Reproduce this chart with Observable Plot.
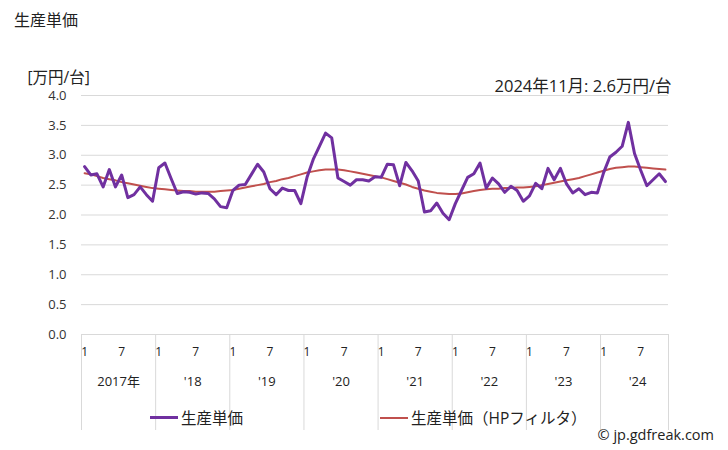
<!DOCTYPE html>
<html>
<head>
<meta charset="utf-8">
<script src="https://cdn.jsdelivr.net/npm/d3@7"></script>
<script src="https://cdn.jsdelivr.net/npm/@observablehq/plot@0.6"></script>
<style>
  html, body { margin: 0; padding: 0; background: #fff; }
  body { width: 728px; height: 450px; position: relative; overflow: hidden;
         font-family: "Open Sans", "Noto Sans CJK JP", sans-serif; color: #222; }
  #chart { position: absolute; left: 0; top: 0; z-index: 0; }
  .title, .legend, .credit { z-index: 2; }
  .title { position: absolute; left: 14px; top: 7px; font-size: 16px; font-family: "Noto Sans CJK JP", sans-serif; }
  .legend { position: absolute; top: 406px; font-size: 15.5px; display: flex; align-items: center; }
  .legend span.sw { display: inline-block; width: 28px; height: 3px; margin-right: 3px; }
  .credit { position: absolute; right: 14px; top: 425px; font-size: 14.5px; }
</style>
</head>
<body>
<div id="chart"></div>
<div class="title">生産単価</div>
<div class="legend" style="left:150px"><span class="sw" style="background:#7030a0"></span>生産単価</div>
<div class="legend" style="left:380px"><span class="sw" style="background:#c0504d;height:2px"></span>生産単価（HPフィルタ）</div>
<div class="credit">© jp.gdfreak.com</div>
<script>
const years = [2017, 2018, 2019, 2020, 2021, 2022, 2023, 2024];
const yearLabels = ["2017年", "'18", "'19", "'20", "'21", "'22", "'23", "'24"];
const monthTickLabels = [1, 7];
const yTicks = [0, 0.5, 1, 1.5, 2, 2.5, 3, 3.5, 4];

// 生産単価 (万円/台), Jan 2017 – Nov 2024
const unitPrice = [
  2.81, 2.67, 2.69, 2.47, 2.76, 2.47, 2.67, 2.29, 2.34, 2.47, 2.34, 2.23,
  2.79, 2.87, 2.61, 2.36, 2.39, 2.38, 2.35, 2.37, 2.36, 2.27, 2.14, 2.12,
  2.41, 2.50, 2.51, 2.68, 2.85, 2.72, 2.44, 2.34, 2.45, 2.41, 2.41, 2.19,
  2.63, 2.93, 3.15, 3.37, 3.29, 2.62, 2.56, 2.50, 2.59, 2.59, 2.57, 2.64,
  2.63, 2.85, 2.84, 2.49, 2.88, 2.74, 2.57, 2.05, 2.07, 2.20, 2.03, 1.92,
  2.19, 2.41, 2.63, 2.69, 2.87, 2.45, 2.62, 2.52, 2.38, 2.48, 2.41, 2.23,
  2.32, 2.53, 2.44, 2.78, 2.59, 2.78, 2.52, 2.37, 2.44, 2.34, 2.38, 2.37,
  2.71, 2.97, 3.05, 3.15, 3.55, 3.03, 2.75, 2.49, 2.59, 2.69, 2.56
];
// 生産単価 (HPフィルタ)
const hpTrend = [
  2.70, 2.68, 2.65, 2.62, 2.60, 2.58, 2.55, 2.53, 2.51, 2.49, 2.47, 2.45,
  2.44, 2.43, 2.42, 2.41, 2.40, 2.40, 2.39, 2.39, 2.39, 2.39, 2.40, 2.41,
  2.42, 2.44, 2.46, 2.48, 2.50, 2.52, 2.55, 2.57, 2.60, 2.62, 2.65, 2.68,
  2.71, 2.73, 2.75, 2.76, 2.76, 2.76, 2.75, 2.73, 2.71, 2.69, 2.67, 2.65,
  2.63, 2.60, 2.57, 2.54, 2.51, 2.47, 2.44, 2.41, 2.39, 2.37, 2.36, 2.35,
  2.35, 2.36, 2.38, 2.40, 2.42, 2.43, 2.44, 2.44, 2.45, 2.45, 2.46, 2.46,
  2.47, 2.48, 2.50, 2.52, 2.54, 2.56, 2.58, 2.60, 2.62, 2.65, 2.68, 2.71,
  2.74, 2.77, 2.79, 2.80, 2.81, 2.81, 2.80, 2.79, 2.78, 2.77, 2.76
];
const latestLabel = "2024年11月: 2.6万円/台";
const unitLabel = "[万円/台]";

const n = unitPrice.length;
const rows = unitPrice.map((v, i) => ({ i, v, hp: hpTrend[i], month: (i % 12) + 1 }));
const monthTicks = rows.filter(d => monthTickLabels.includes(d.month));
const yearRows = years.map((y, k) => ({ k, label: yearLabels[k], center: k * 12 + 5.5 }));
const separators = years.map((y, k) => k * 12 - 0.5).concat([n - 0.5]);

const W = 728, H = 450, mTop = 95, mBottom = 116, mLeft = 81, mRight = 60;
const frameH = H - mTop - mBottom;

const chart = Plot.plot({
  width: W, height: H,
  marginTop: mTop, marginBottom: mBottom, marginLeft: mLeft, marginRight: mRight,
  style: { fontFamily: '"Open Sans", "Noto Sans CJK JP", sans-serif', color: "#333", background: "transparent", overflow: "visible" },
  x: { domain: [-0.5, n - 0.5], axis: null },
  y: { domain: [0, 4], axis: null },
  marks: [
    Plot.ruleY(yTicks, { stroke: "#d9d9d9", strokeWidth: 1 }),
    Plot.ruleX(separators, { stroke: "#d9d9d9", strokeWidth: 1, insetTop: frameH, insetBottom: -96 }),
    Plot.axisY({ ticks: yTicks, tickFormat: d => d.toFixed(1), tickSize: 0, tickPadding: 15, fontSize: 13, fill: "#333" }),
    Plot.text(monthTicks, { x: "i", text: d => String(d.month), frameAnchor: "bottom", dy: 21, fontSize: 12, fill: "#222" }),
    Plot.text(yearRows, { x: "center", text: "label", frameAnchor: "bottom", dy: 51, fontSize: 13, fill: "#222" }),
    Plot.line(rows, { x: "i", y: "hp", stroke: "#c0504d", strokeWidth: 2 }),
    Plot.line(rows, { x: "i", y: "v", stroke: "#7030a0", strokeWidth: 3, strokeLinejoin: "round" }),
    Plot.text([latestLabel], { text: d => d, frameAnchor: "top-right", dx: 3, dy: -15, textAnchor: "end", fontSize: 16.5, fill: "#222" }),
    Plot.text([unitLabel], { text: d => d, frameAnchor: "top-left", dx: -54, dy: -24, textAnchor: "start", fontSize: 15.5, fill: "#222" })
  ]
});
document.getElementById("chart").appendChild(chart);
</script>
</body>
</html>
